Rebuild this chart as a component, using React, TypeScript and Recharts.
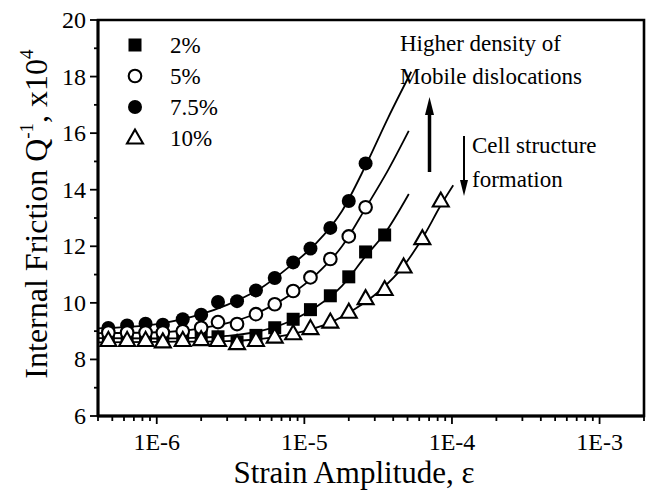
import { ComposedChart, Line, Scatter, XAxis, YAxis, ReferenceArea } from "recharts";

// measured strain amplitudes (shared by all series, longest first)
const strain = [
  4.7e-7, 6.3e-7, 8.4e-7, 1.1e-6, 1.5e-6, 2.0e-6, 2.6e-6, 3.5e-6, 4.7e-6, 6.3e-6,
  8.4e-6, 1.1e-5, 1.5e-5, 2.0e-5, 2.6e-5, 3.5e-5, 4.7e-5, 6.3e-5, 8.4e-5,
];

// internal friction, x10^4
const q2 = [8.78, 8.78, 8.75, 8.68, 8.72, 8.78, 8.8, 8.62, 8.85, 9.12, 9.42, 9.76, 10.25, 10.92, 11.8, 12.4];
const q5 = [8.95, 8.95, 8.95, 8.95, 9.0, 9.12, 9.32, 9.25, 9.6, 9.95, 10.42, 10.9, 11.55, 12.35, 13.38];
const q75 = [9.11, 9.2, 9.26, 9.23, 9.42, 9.58, 10.03, 10.06, 10.44, 10.88, 11.43, 11.92, 12.65, 13.6, 14.93];
const q10 = [
  8.67, 8.67, 8.67, 8.62, 8.67, 8.7, 8.67, 8.56, 8.67, 8.79, 8.91, 9.09, 9.32, 9.67, 10.15,
  10.47, 11.27, 12.27, 13.6,
];

// fitted curves
const fitX2 = [4e-7, 1e-6, 2e-6, 3e-6, 5e-6, 8e-6, 1.2e-5, 1.8e-5, 2.6e-5, 3.5e-5, 5.1e-5];
const fitY2 = [8.75, 8.74, 8.77, 8.83, 9.0, 9.35, 9.85, 10.6, 11.65, 12.45, 13.85];
const fitX5 = [4e-7, 1e-6, 2e-6, 3e-6, 5e-6, 8e-6, 1.2e-5, 1.8e-5, 2.6e-5, 3.7e-5, 5.1e-5];
const fitY5 = [8.93, 8.96, 9.1, 9.28, 9.68, 10.28, 11.0, 12.0, 13.35, 14.7, 16.08];
const fitX75 = [4e-7, 1e-6, 2e-6, 3e-6, 5e-6, 8e-6, 1.2e-5, 1.8e-5, 2.6e-5, 3.7e-5, 5.3e-5];
const fitY75 = [9.1, 9.25, 9.6, 9.93, 10.5, 11.3, 12.1, 13.25, 14.85, 16.55, 18.17];
const fitX10 = [4e-7, 1e-6, 3e-6, 6e-6, 1e-5, 1.5e-5, 2.2e-5, 3.2e-5, 4.7e-5, 6.5e-5, 8.4e-5, 1.02e-4];
const fitY10 = [8.6, 8.62, 8.65, 8.77, 9.0, 9.3, 9.78, 10.4, 11.3, 12.4, 13.45, 14.16];

const xMajorTicks = [1e-6, 1e-5, 1e-4, 1e-3];
const xMajorLabels = ["1E-6", "1E-5", "1E-4", "1E-3"];
const xMinorTicks = [
  4e-7, 5e-7, 6e-7, 7e-7, 8e-7, 9e-7,
  2e-6, 3e-6, 4e-6, 5e-6, 6e-6, 7e-6, 8e-6, 9e-6,
  2e-5, 3e-5, 4e-5, 5e-5, 6e-5, 7e-5, 8e-5, 9e-5,
  2e-4, 3e-4, 4e-4, 5e-4, 6e-4, 7e-4, 8e-4, 9e-4,
  2e-3,
];
const yMajorTicks = [6, 8, 10, 12, 14, 16, 18, 20];
const yMinorTicks = [7, 9, 11, 13, 15, 17, 19];

const legendLabels = ["2%", "5%", "7.5%", "10%"];

const pts = (xs: number[], ys: number[]) => ys.map((y, i) => ({ x: xs[i], y }));

const FONT = "Liberation Serif, Times New Roman, serif";

const Square = ({ cx, cy }: any) => <rect x={cx - 6.5} y={cy - 6.5} width={13} height={13} fill="#000" />;
const Dot = ({ cx, cy }: any) => <circle cx={cx} cy={cy} r={7} fill="#000" />;
const Ring = ({ cx, cy }: any) => (
  <circle cx={cx} cy={cy} r={6.3} fill="#fff" stroke="#000" strokeWidth={2.1} />
);
const Tri = ({ cx, cy }: any) => (
  <polygon
    points={`${cx},${cy - 8.5} ${cx - 8},${cy + 5.5} ${cx + 8},${cy + 5.5}`}
    fill="#fff"
    stroke="#000"
    strokeWidth={2.1}
    strokeLinejoin="miter"
  />
);

const XTick = ({ x, y, payload }: any) => {
  const i = xMajorTicks.indexOf(payload.value);
  const major = i >= 0;
  return (
    <g>
      <line x1={x} y1={y} x2={x} y2={y + (major ? 8 : 5)} stroke="#000" strokeWidth={1.8} />
      {major && (
        <text x={x} y={y + 34} textAnchor="middle" fontFamily={FONT} fontSize={24} fill="#000">
          {xMajorLabels[i]}
        </text>
      )}
    </g>
  );
};

const YTick = ({ x, y, payload }: any) => {
  const major = yMajorTicks.includes(payload.value);
  return (
    <g>
      <line x1={x - (major ? 8 : 4)} y1={y} x2={x} y2={y} stroke="#000" strokeWidth={1.8} />
      {major && (
        <text x={x - 12} y={y + 8} textAnchor="end" fontFamily={FONT} fontSize={24} fill="#000">
          {payload.value}
        </text>
      )}
    </g>
  );
};

const YLabel = () => (
  <text
    transform="translate(47,214) rotate(-90)"
    textAnchor="middle"
    fontFamily={FONT}
    fontSize={32}
    fill="#000"
  >
    Internal Friction Q
    <tspan fontSize={19} dy={-14}>-1</tspan>
    <tspan dy={14}>, x10</tspan>
    <tspan fontSize={19} dy={-14}>4</tspan>
  </text>
);

const XLabel = () => (
  <text x={354} y={483} textAnchor="middle" fontFamily={FONT} fontSize={31} fill="#000">
    Strain Amplitude, ε
  </text>
);

const legendShapes = [Square, Ring, Dot, Tri];

function Overlay() {
  return (
    <svg
      width={647}
      height={493}
      style={{ position: "absolute", left: 0, top: 0, pointerEvents: "none" }}
    >
      {legendLabels.map((label, i) => {
        const Shape = legendShapes[i];
        const cy = 45 + i * 31;
        return (
          <g key={label}>
            <Shape cx={135} cy={cy} />
            <text x={170} y={cy + 8} fontFamily={FONT} fontSize={23} fill="#000">
              {label}
            </text>
          </g>
        );
      })}
      <g fontFamily={FONT} fontSize={23} fill="#000">
        <text x={400} y={51}>Higher density of</text>
        <text x={400} y={84}>Mobile dislocations</text>
        <text x={472} y={153}>Cell structure</text>
        <text x={472} y={187}>formation</text>
      </g>
      <line x1={429.5} y1={172} x2={429.5} y2={110} stroke="#000" strokeWidth={3.5} />
      <polygon points="429.5,97 425,115 434,115" fill="#000" />
      <line x1={464} y1={136} x2={464} y2={182} stroke="#000" strokeWidth={2} />
      <polygon points="464,196 460,180 468,180" fill="#000" />
    </svg>
  );
}

export default function App() {
  const domainX: [number, number] = [4e-7, 2e-3];
  const ticksX = [...xMajorTicks, ...xMinorTicks].sort((a, b) => a - b);
  const ticksY = [...yMajorTicks, ...yMinorTicks].sort((a, b) => a - b);
  const lineProps = {
    type: "monotone" as const,
    dataKey: "y",
    stroke: "#000",
    strokeWidth: 1.8,
    dot: false,
    activeDot: false,
    isAnimationActive: false,
  };

  return (
    <div style={{ position: "absolute", left: 0, top: 0, width: 647, height: 493, background: "#fff" }}>
      <ComposedChart width={647} height={493} margin={{ top: 20, right: 3, bottom: 0, left: 0 }}>
        <XAxis
          dataKey="x"
          type="number"
          scale="log"
          domain={domainX}
          allowDataOverflow
          ticks={ticksX}
          interval={0}
          tickSize={0}
          tickMargin={0}
          tick={<XTick />}
          height={77}
          axisLine={{ stroke: "#000", strokeWidth: 2.8 }}
          label={<XLabel />}
        />
        <YAxis
          type="number"
          domain={[6, 20]}
          allowDataOverflow
          ticks={ticksY}
          interval={0}
          tickSize={0}
          tickMargin={0}
          tick={<YTick />}
          width={98}
          axisLine={{ stroke: "#000", strokeWidth: 2.8 }}
          label={<YLabel />}
        />
        <ReferenceArea
          x1={domainX[0]}
          x2={domainX[1]}
          y1={6}
          y2={20}
          fill="none"
          stroke="#000"
          strokeWidth={2.6}
          ifOverflow="visible"
        />
        <Scatter data={pts(strain, q2)} dataKey="y" shape={<Square />} isAnimationActive={false} />
        <Scatter data={pts(strain, q75)} dataKey="y" shape={<Dot />} isAnimationActive={false} />
        <Scatter data={pts(strain, q5)} dataKey="y" shape={<Ring />} isAnimationActive={false} />
        <Scatter data={pts(strain, q10)} dataKey="y" shape={<Tri />} isAnimationActive={false} />
        <Line data={pts(fitX2, fitY2)} {...lineProps} />
        <Line data={pts(fitX5, fitY5)} {...lineProps} />
        <Line data={pts(fitX75, fitY75)} {...lineProps} />
        <Line data={pts(fitX10, fitY10)} {...lineProps} />
      </ComposedChart>
      <Overlay />
    </div>
  );
}
